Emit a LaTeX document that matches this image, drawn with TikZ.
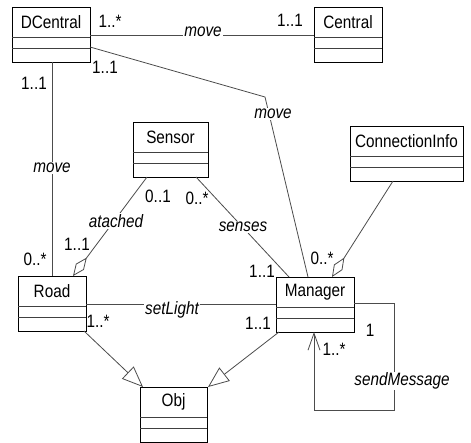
\documentclass[tikz,border=0pt]{standalone}
\usepackage{fontspec}
\setmainfont{Liberation Sans}
\usetikzlibrary{arrows.meta,calc}

% text is set slightly taller than the font's natural proportions
\newcommand\tallText[1]{\scalebox{1}[1.17]{#1}}

% a UML class: name, printed name, left x, top y, width
\newcommand\umlclass[5]{%
  \node[classbox, minimum width=#5pt] (#1) at (#3,#4) {};
  \node[classname] (#1-name) at ($(#1.north)+(0,15)$) {\tallText{#2}};
  \draw[divider] ($(#1.north west)+(0,30)$) -- ($(#1.north east)+(0,30)$);
  \draw[divider] ($(#1.north west)+(0,41)$) -- ($(#1.north east)+(0,41)$);
}

\begin{document}
\begin{tikzpicture}[x=1pt,y=-1pt,
  classbox/.style={draw=black, line width=0.8pt, minimum height=55pt,
    inner sep=0pt, outer sep=0pt, anchor=north west},
  classname/.style={font=\fontsize{15.3}{17}\selectfont, inner sep=0pt},
  divider/.style={draw=black!75, line width=0.8pt},
  assoc/.style={draw=black!70, line width=0.8pt},
  rolelbl/.style={font=\fontsize{15.3}{17}\selectfont\itshape, fill=white, inner sep=1pt},
  mult/.style={font=\fontsize{15.3}{17}\selectfont, inner sep=0pt},
  aggr/.style={-{Diamond[open, length=23pt, width=10pt]}},
  gener/.style={-{Triangle[open, length=21pt, width=17pt]}},
  navig/.style={-{Straight Barb[length=17pt, width=12pt]}},
]
\useasboundingbox (0,0) rectangle (471,443);
\fill[white] (0,0) rectangle (471,443);

% classes
\umlclass{dc}{DCentral}{12}{7}{78}
\umlclass{ce}{Central}{314}{7}{68}
\umlclass{se}{Sensor}{133}{122}{75}
\umlclass{ci}{ConnectionInfo}{350}{126}{113}
\umlclass{ro}{Road}{18}{276}{68}
\umlclass{mg}{Manager}{276}{277}{78}
\umlclass{ob}{Obj}{140}{387}{67}

% DCentral -- Central
\draw[assoc] ($(dc.north east)+(0,28)$) -- ($(ce.north west)+(0,28)$);
\node[rolelbl, anchor=base] (l-move1) at (203,36.5) {\tallText{move}};
\node[mult] (m1) at (110,21) {\tallText{1..*}};
\node[mult] (m2) at (290,20) {\tallText{1..1}};

% DCentral -- Manager
\coordinate (bend) at (265,97);
\draw[assoc] ($(dc.north east)+(0,40)$) -- (bend) -- ($(mg.north west)+(32,0)$);
\node[rolelbl] (l-move2) at (273,114) {\tallText{move}};
\node[mult] (m3) at (105,67) {\tallText{1..1}};

% DCentral -- Road
\draw[assoc] ($(dc.south west)+(40,0)$) -- ($(ro.north west)+(34,0)$);
\node[rolelbl] (l-move3) at (52,168) {\tallText{move}};
\node[mult] (m4) at (34,83) {\tallText{1..1}};
\node[mult] (m5) at (35,259) {\tallText{0..*}};

% Sensor -- Road (aggregation)
\draw[assoc, aggr] ($(se.south west)+(14,0)$) -- ($(ro.north west)+(55,0)$);
\node[rolelbl] (l-atached) at (116,221) {\tallText{atached}};
\node[mult] (m6) at (158,196) {\tallText{0..1}};
\node[mult] (m7) at (77,244) {\tallText{1..1}};

% Sensor -- Manager
\draw[assoc] ($(se.south west)+(63,0)$) -- ($(mg.north west)+(13,0)$);
\node[rolelbl] (l-senses) at (243,227) {\tallText{senses}};
\node[mult] (m8) at (197,198) {\tallText{0..*}};
\node[mult] (m9) at (262,271) {\tallText{1..1}};

% ConnectionInfo -- Manager (aggregation)
\draw[assoc, aggr] ($(ci.south west)+(43,0)$) -- ($(mg.north west)+(56,0)$);
\node[mult] (m10) at (322,258) {\tallText{0..*}};

% Road -- Manager
\draw[assoc] ($(ro.north east)+(0,28)$) -- ($(mg.north west)+(0,27)$);
\node[rolelbl] (l-setlight) at (172,310) {\tallText{setLight}};
\node[mult] (m11) at (98,321) {\tallText{1..*}};
\node[mult] (m12) at (258,323) {\tallText{1..1}};

% generalizations to Obj
\draw[assoc, gener] ($(ro.south east)+(-2,0)$) -- ($(ob.north west)+(3,0)$);
\draw[assoc, gener] ($(mg.south west)+(3,0)$) -- ($(ob.north east)+(1,0)$);

% Manager self association
\coordinate (loop) at (394,410);
\draw[assoc, navig] ($(mg.north east)+(0,26)$) -| (loop) -| ($(mg.south west)+(38,0)$);
\node[rolelbl] (l-send) at (402,381) {\tallText{sendMessage}};
\node[mult] (m13) at (370,330) {\tallText{1}};
\node[mult] (m14) at (334,349) {\tallText{1..*}};
\end{tikzpicture}
\end{document}
